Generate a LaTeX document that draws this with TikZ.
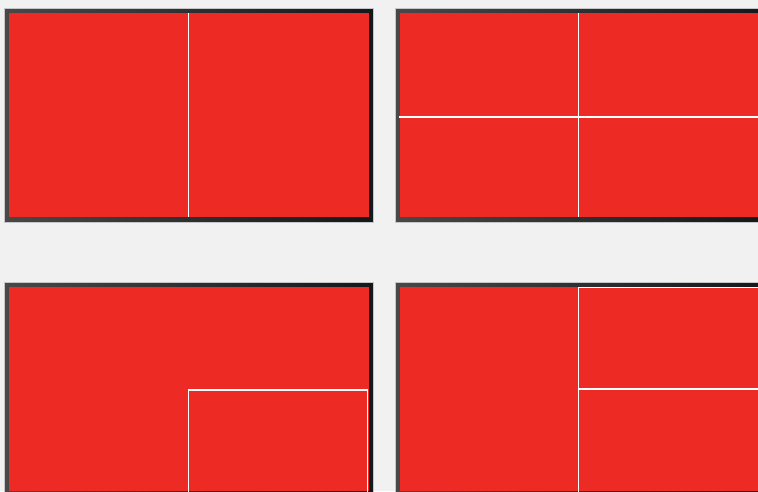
\documentclass[tikz,border=0pt]{standalone}
\usetikzlibrary{positioning}
\definecolor{panelred}{HTML}{EE2A24}
\definecolor{bggray}{HTML}{F1F1F1}
\definecolor{framelight}{HTML}{484848}
\definecolor{framedark}{HTML}{13181C}
\definecolor{rimgray}{HTML}{C6C6C6}
\tikzset{
  panelframe/.style={
    left color=framelight,
    right color=framedark,
    draw=rimgray,
    line width=0.6pt
  },
  panelface/.style={
    fill=panelred
  },
  splitline/.style={
    draw=white,
    line width=1.5pt
  }
}
\begin{document}
\begin{tikzpicture}[x=1pt,y=-1pt]
  \useasboundingbox (0,0) rectangle (758,491);
  \fill[bggray] (0,0) rectangle (758,491);
  \clip (0,0) rectangle (758,491);
  % four screens
  \foreach \px/\py in {4/8, 395/8, 4/282, 395/282} {
    \path[panelframe] (\px,\py) rectangle ++(369.5,214);
    \path[panelface] (\px+5,\py+5) rectangle ++(359.5,204);
  }
  % top left: two halves
  \draw[splitline] (188.5,13) -- (188.5,217);
  % top right: four quarters
  \draw[splitline] (578.5,13) -- (578.5,217);
  \draw[splitline] (399,117) -- (760,117);
  % bottom left: picture in picture
  \draw[splitline] (188.5,498) -- (188.5,390) -- (367.5,390) -- (367.5,498);
  % bottom right: one big, two small
  \draw[splitline] (578.5,498) -- (578.5,287.5) -- (760,287.5);
  \draw[splitline] (578.5,389) -- (760,389);
\end{tikzpicture}
\end{document}
